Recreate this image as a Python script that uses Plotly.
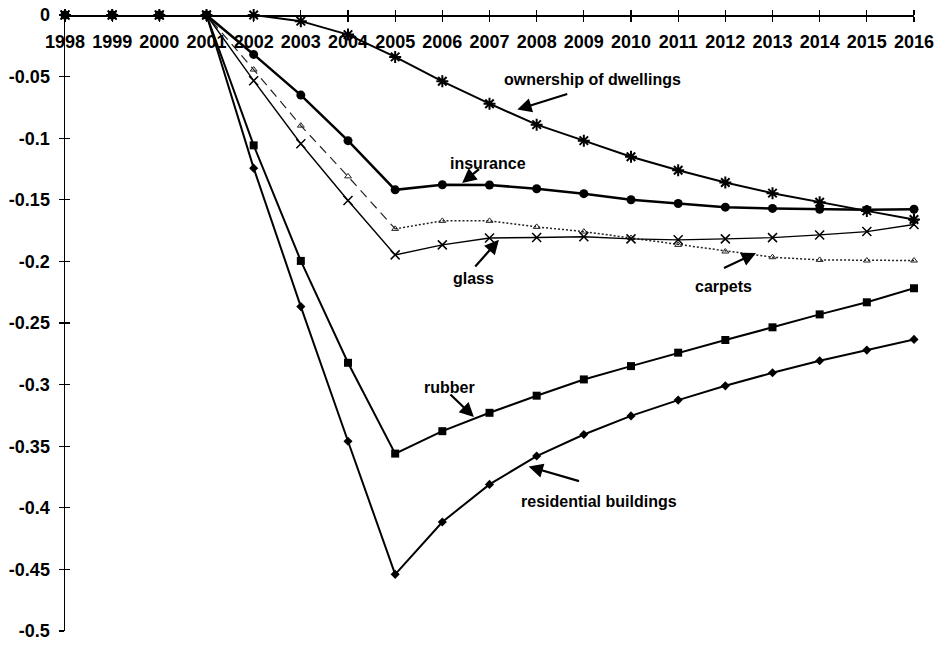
import plotly.graph_objects as go

years = list(range(1998, 2017))
year_labels = [str(y) for y in years]

ownership = [0, 0, 0, 0, 0, -0.005, -0.0159, -0.034, -0.0538, -0.072, -0.089, -0.102,
             -0.115, -0.126, -0.136, -0.1446, -0.152, -0.159, -0.166]
insurance = [0, 0, 0, 0, -0.032, -0.065, -0.102, -0.1419, -0.1378, -0.138, -0.141, -0.145,
             -0.150, -0.153, -0.156, -0.157, -0.1577, -0.158, -0.1577]
glass = [0, 0, 0, 0, -0.0533, -0.1045, -0.1506, -0.1947, -0.1866, -0.181, -0.1806, -0.180,
         -0.1817, -0.1825, -0.1817, -0.1807, -0.1785, -0.1758, -0.170]
carpets = [0, 0, 0, 0, -0.0443, -0.0898, -0.131, -0.1736, -0.1671, -0.1671, -0.172, -0.1758,
           -0.181, -0.1866, -0.192, -0.1966, -0.1988, -0.1993, -0.1993]
rubber = [0, 0, 0, 0, -0.1058, -0.1996, -0.2823, -0.356, -0.3378, -0.3229, -0.309, -0.2958,
          -0.285, -0.2741, -0.2638, -0.2535, -0.243, -0.2332, -0.2218]
residential = [0, 0, 0, 0, -0.1243, -0.2367, -0.346, -0.454, -0.4115, -0.381, -0.358, -0.3405,
               -0.3254, -0.3126, -0.301, -0.2904, -0.2806, -0.272, -0.2633]

y_ticks = [0, -0.05, -0.1, -0.15, -0.2, -0.25, -0.3, -0.35, -0.4, -0.45, -0.5]
y_tick_labels = ["0", "-0.05", "-0.1", "-0.15", "-0.2", "-0.25", "-0.3", "-0.35", "-0.4", "-0.45", "-0.5"]

# label text positions and arrow (tail -> head) in data coordinates
labels = ["ownership of dwellings", "insurance", "glass", "carpets", "rubber", "residential buildings"]
label_x = [2009.19, 2006.96, 2006.66, 2011.96, 2006.15, 2009.33]
label_y = [-0.0524, -0.1206, -0.2135, -0.2203, -0.302, -0.395]
arrow_tail_x = [2008.68, 2006.81, 2006.67, 2011.94, 2006.14, 2008.93]
arrow_tail_y = [-0.0638, -0.1241, -0.2054, -0.206, -0.3069, -0.3787]
arrow_head_x = [2007.59, 2006.42, 2007.2, 2012.65, 2006.67, 2007.83]
arrow_head_y = [-0.0768, -0.1363, -0.1824, -0.1932, -0.3264, -0.3665]

FONT = "Liberation Sans, Arial, Helvetica, sans-serif"
BLACK = "#000000"

fig = go.Figure()

split = years.index(2005)
fig.add_trace(go.Scatter(x=years[:split + 1], y=carpets[:split + 1], mode="lines",
                         line=dict(color="#222222", width=1.2, dash="9px,6px"),
                         cliponaxis=False, showlegend=False, hoverinfo="skip"))
fig.add_trace(go.Scatter(x=years[split:], y=carpets[split:], mode="lines",
                         line=dict(color="#222222", width=1.5, dash="2px,2px"),
                         cliponaxis=False, showlegend=False, hoverinfo="skip"))
fig.add_trace(go.Scatter(x=years, y=carpets, mode="markers", name="carpets",
                         marker=dict(symbol="triangle-up-open", size=6, color="#222222",
                                     line=dict(width=1, color="#222222")),
                         cliponaxis=False, showlegend=False))
fig.add_trace(go.Scatter(x=years, y=glass, mode="lines+markers", name="glass",
                         line=dict(color=BLACK, width=1.4),
                         marker=dict(symbol="x-thin-open", size=9, line=dict(width=1.5, color=BLACK)),
                         cliponaxis=False, showlegend=False))
fig.add_trace(go.Scatter(x=years, y=residential, mode="lines+markers", name="residential buildings",
                         line=dict(color=BLACK, width=2),
                         marker=dict(symbol="diamond", size=7, color=BLACK),
                         cliponaxis=False, showlegend=False))
fig.add_trace(go.Scatter(x=years, y=rubber, mode="lines+markers", name="rubber",
                         line=dict(color=BLACK, width=2),
                         marker=dict(symbol="square", size=8, color=BLACK),
                         cliponaxis=False, showlegend=False))
fig.add_trace(go.Scatter(x=years, y=ownership, mode="lines+markers", name="ownership of dwellings",
                         line=dict(color=BLACK, width=2),
                         marker=dict(symbol="asterisk-open", size=10, line=dict(width=2, color=BLACK)),
                         cliponaxis=False, showlegend=False))
fig.add_trace(go.Scatter(x=years, y=insurance, mode="lines+markers", name="insurance",
                         line=dict(color=BLACK, width=2.5),
                         marker=dict(symbol="circle", size=9, color=BLACK),
                         cliponaxis=False, showlegend=False))

# helper trace so the overlaid tick-only axes are drawn
fig.add_trace(go.Scatter(x=[None], y=[None], xaxis="x2", yaxis="y2", mode="markers",
                         showlegend=False, hoverinfo="skip"))

for i, txt in enumerate(labels):
    fig.add_annotation(x=label_x[i], y=label_y[i], text=txt, showarrow=False,
                       font=dict(family=FONT, size=16, color=BLACK, weight="bold"),
                       xanchor="center", yanchor="middle")
    fig.add_annotation(x=arrow_head_x[i], y=arrow_head_y[i], ax=arrow_tail_x[i], ay=arrow_tail_y[i],
                       axref="x", ayref="y", xref="x", yref="y", text="", showarrow=True,
                       arrowhead=2, arrowsize=1.3, arrowwidth=2.2, arrowcolor=BLACK)

axis_font = dict(family=FONT, size=18, color=BLACK, weight="bold")

fig.update_layout(
    width=936, height=646,
    margin=dict(l=65, r=22, t=15, b=15, autoexpand=False),
    paper_bgcolor="white", plot_bgcolor="white",
    showlegend=False,
    xaxis=dict(range=[1998, 2016], tickvals=years, ticktext=year_labels,
               anchor="free", position=1, side="bottom",
               showline=True, linecolor=BLACK, linewidth=1.5,
               ticks="outside", ticklen=5, tickwidth=1.2, tickcolor=BLACK,
               ticklabelstandoff=5, automargin=False,
               showgrid=False, zeroline=False, tickfont=axis_font, fixedrange=True),
    yaxis=dict(range=[-0.5, 0], tickvals=y_ticks, ticktext=y_tick_labels,
               showline=True, linecolor=BLACK, linewidth=1.5,
               ticks="outside", ticklen=5, tickwidth=1.2, tickcolor=BLACK,
               ticklabelstandoff=5, automargin=False,
               showgrid=False, zeroline=False, tickfont=axis_font, fixedrange=True),
    xaxis2=dict(range=[1998, 2016], tickvals=years, overlaying="x", anchor="free", position=1,
                side="top", ticks="outside", ticklen=5, tickwidth=1.2, tickcolor=BLACK,
                showticklabels=False, showline=False, showgrid=False, zeroline=False,
                automargin=False, fixedrange=True),
    yaxis2=dict(range=[-0.5, 0], tickvals=y_ticks, overlaying="y", anchor="x2", side="left",
                ticks="inside", ticklen=5, tickwidth=1.2, tickcolor=BLACK,
                showticklabels=False, showline=False, showgrid=False, zeroline=False,
                automargin=False, fixedrange=True),
)

fig.write_html("out.html",
               config={"displayModeBar": False, "staticPlot": True},
               post_script="document.body.style.margin='0';document.body.style.overflow='hidden';")
